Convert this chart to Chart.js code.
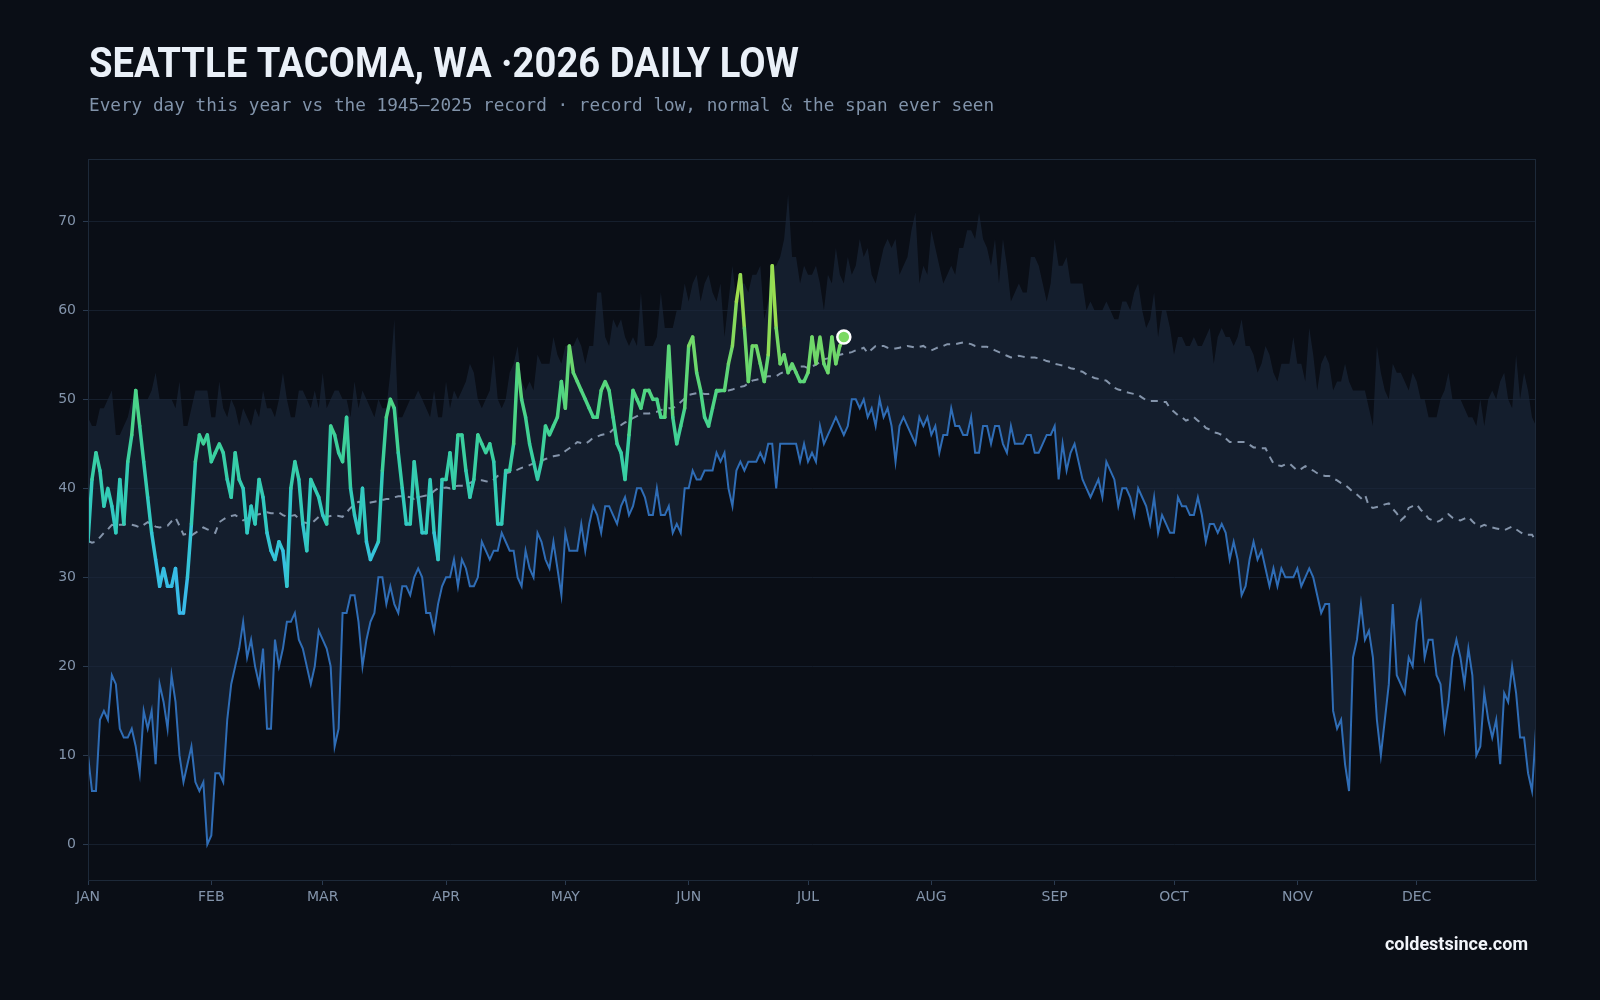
<!DOCTYPE html>
<html>
<head>
<meta charset="utf-8">
<script src="https://cdn.jsdelivr.net/npm/chart.js@4.4.1/dist/chart.umd.min.js"></script>
<style>
  html, body { margin: 0; padding: 0; background: #0a0e16; }
  #wrap { width: 1600px; height: 1000px; position: relative; }
  canvas { display: block; }
</style>
</head>
<body>
<div id="wrap"><canvas id="c" width="1600" height="1000"></canvas></div>
<script>
// ---------- DATA ----------
const MONTHS = ['JAN','FEB','MAR','APR','MAY','JUN','JUL','AUG','SEP','OCT','NOV','DEC'];
const MONTH_START = [0,31,59,90,120,151,181,212,243,273,304,334];
const Y_TICKS = [0,10,20,30,40,50,60,70];

// record (lowest) daily low, 1945-2025
const recordLow = [
  10,6,6,14,15,14,19,18,13,12,
  12,13,11,8,15,13,15,9,18,16,
  13,19,16,10,7,9,11,7,6,7,
  0,1,8,8,7,14,18,20,22,25,
  21,23,20,18,22,13,13,23,20,22,
  25,25,26,23,22,20,18,20,24,23,
  22,20,11,13,26,26,28,28,25,20,
  23,25,26,30,30,27,29,27,26,29,
  29,28,30,31,30,26,26,24,27,29,
  30,30,32,29,32,31,29,29,30,34,
  33,32,33,33,35,34,33,33,30,29,
  33,31,30,35,34,32,31,34,31,28,
  35,33,33,33,36,33,36,38,37,35,
  38,38,37,36,38,39,37,38,40,40,
  39,37,37,40,37,37,38,35,36,35,
  40,40,42,41,41,42,42,42,44,43,
  44,40,38,42,43,42,43,43,43,44,
  43,45,45,40,45,45,45,45,45,43,
  45,43,44,43,47,45,46,47,48,47,
  46,47,50,50,49,50,48,49,47,50,
  48,49,47,43,47,48,47,46,45,48,
  47,48,46,47,44,46,46,49,47,47,
  46,46,48,44,44,47,47,45,47,47,
  45,44,47,45,45,45,46,46,44,44,
  45,46,46,47,41,45,42,44,45,43,
  41,40,39,40,41,39,43,42,41,38,
  40,40,39,37,40,39,38,36,39,35,
  37,36,35,35,39,38,38,37,37,39,
  37,34,36,36,35,36,35,32,34,32,
  28,29,32,34,32,33,31,29,31,29,
  31,30,30,30,31,29,30,31,30,28,
  26,27,27,15,13,14,9,6,21,23,
  27,23,24,21,14,10,14,18,27,19,
  18,17,21,20,25,27,21,23,23,19,
  18,13,16,21,23,21,18,22,19,10,
  11,17,14,12,14,9,17,16,20,17,
  12,12,8,6,13
];

// highest daily low ever seen (top of the span)
const spanHigh = [
  48,47,47,49,49,50,51,46,46,47,
  48,50,50,50,50,50,51,53,50,50,
  50,50,49,52,47,47,49,51,51,51,
  51,48,48,52,49,48,50,49,47,49,
  48,47,49,48,51,49,49,48,50,53,
  50,48,48,51,51,50,49,51,49,53,
  49,50,51,51,50,50,48,52,49,51,
  50,49,48,50,49,49,53,59,48,48,
  49,50,50,51,50,49,48,51,48,48,
  52,49,51,50,51,52,54,53,50,49,
  50,51,55,50,49,50,53,54,56,52,
  51,52,51,55,54,54,54,57,55,54,
  56,56,56,57,56,54,56,56,62,62,
  57,56,59,58,59,57,56,57,56,62,
  56,56,56,57,62,58,58,58,60,60,
  63,61,63,64,61,63,64,62,61,63,
  57,61,65,61,63,63,62,64,64,65,
  59,61,65,65,66,68,73,66,66,63,
  65,64,64,65,63,60,64,63,67,64,
  63,66,64,65,68,66,67,64,63,65,
  67,68,67,68,64,65,66,69,71,63,
  65,64,69,67,65,63,64,65,64,67,
  67,69,69,68,71,68,67,65,68,63,
  68,65,61,62,63,62,62,66,66,65,
  63,61,63,68,65,65,66,63,63,63,
  63,60,61,60,60,60,61,60,59,59,
  61,61,60,62,63,60,58,59,62,57,
  60,60,58,55,57,57,56,56,57,56,
  56,57,58,54,57,58,57,57,56,57,
  59,56,56,55,53,54,56,55,53,52,
  54,54,54,57,54,54,52,58,55,51,
  54,55,54,51,52,52,54,52,51,51,
  51,51,49,47,56,53,51,50,54,53,
  53,52,51,53,52,50,50,48,48,48,
  50,51,53,50,50,50,49,48,48,47,
  50,47,50,51,50,52,53,50,49,55,
  50,53,51,48,47
];

// normal daily low
const normalLow = [
  34.1,33.9,34.0,34.5,35.0,35.4,35.9,35.8,35.9,35.9,
  36.0,35.9,35.8,35.6,35.9,36.2,36.0,35.7,35.6,35.7,
  35.8,36.3,36.7,35.8,34.8,34.9,34.7,35.0,35.3,35.6,
  35.4,35.2,35.0,36.2,36.5,36.8,36.9,37.0,36.7,36.4,
  36.6,36.8,37.0,37.1,37.2,37.3,37.2,37.2,37.3,37.0,
  36.8,36.9,37.0,36.6,36.2,36.1,36.0,36.4,36.8,36.8,
  36.8,36.9,37.0,36.9,36.8,37.3,37.8,38.2,38.5,38.4,
  38.3,38.4,38.5,38.6,38.7,38.8,38.8,39.0,39.1,39.1,
  39.1,39.0,38.8,39.0,39.1,39.2,39.3,39.7,40.0,40.0,
  40.1,40.0,40.2,40.3,40.3,40.4,40.6,40.8,40.9,40.9,
  40.8,40.7,41.0,41.4,41.5,41.7,41.8,42.0,42.1,42.3,
  42.4,42.6,42.8,43.0,43.1,43.3,43.4,43.6,43.7,43.8,
  44.2,44.5,44.8,45.2,45.1,45.0,45.3,45.7,45.8,46.0,
  46.1,46.2,46.6,47.0,47.1,47.4,47.6,47.9,48.1,48.4,
  48.4,48.4,48.5,48.6,48.8,48.9,49.0,49.0,49.3,49.7,
  50.1,50.5,50.6,50.7,50.7,50.6,50.6,50.7,50.8,50.9,
  51.0,51.0,51.1,51.3,51.4,51.5,51.8,52.1,52.2,52.3,
  52.5,52.6,52.6,52.6,52.9,53.1,53.2,53.4,53.5,53.7,
  53.7,53.5,53.7,53.9,54.2,54.5,54.6,54.7,54.9,55.0,
  55.1,55.2,55.3,55.5,55.6,55.8,55.2,55.6,56.0,56.0,
  56.0,55.8,55.7,55.7,55.8,55.9,56.0,55.9,55.8,55.9,
  56.0,55.7,55.5,55.7,55.9,56.0,56.2,56.2,56.2,56.3,
  56.4,56.3,56.2,56.0,55.9,55.9,55.9,55.7,55.5,55.3,
  55.1,54.9,54.7,54.8,54.9,54.8,54.7,54.7,54.7,54.6,
  54.5,54.3,54.2,54.0,53.9,53.8,53.7,53.5,53.4,53.2,
  53.1,52.8,52.6,52.4,52.3,52.2,52.1,51.7,51.3,51.1,
  51.0,50.8,50.7,50.6,50.5,50.2,49.9,49.8,49.8,49.8,
  49.7,49.7,49.0,48.6,48.2,48.0,47.6,47.8,48.0,47.6,
  47.3,46.8,46.6,46.3,46.2,46.0,45.6,45.2,45.2,45.2,
  45.2,45.2,44.9,44.6,44.6,44.5,44.5,43.6,42.8,42.6,
  42.5,42.7,42.8,42.4,42.0,42.2,42.5,42.2,42.0,41.7,
  41.5,41.4,41.4,41.1,40.9,40.6,40.4,40.0,39.6,39.3,
  38.9,39.3,38.0,37.8,37.9,38.0,38.2,38.3,37.7,37.2,
  36.4,36.8,37.8,38.0,38.2,37.6,37.2,36.6,36.4,36.2,
  36.4,36.8,37.1,36.7,36.5,36.4,36.6,36.8,36.3,35.9,
  35.7,35.9,35.7,35.6,35.5,35.4,35.3,35.5,35.7,35.4,
  35.1,34.8,34.8,34.8,34.0
];

// 2026 daily low so far
const daily2026 = [
  34,41,44,42,38,40,38,35,41,36,
  43,46,51,47,43,39,35,32,29,31,
  29,29,31,26,26,30,36,43,46,45,
  46,43,44,45,44,41,39,44,41,40,
  35,38,36,41,39,35,33,32,34,33,
  29,40,43,41,36,33,41,40,39,37,
  36,47,46,44,43,48,40,37,35,40,
  34,32,33,34,42,48,50,49,44,40,
  36,36,43,39,35,35,41,35,32,41,
  41,44,40,46,46,42,39,41,46,45,
  44,45,43,36,36,42,42,45,54,50,
  48,45,43,41,43,47,46,47,48,52,
  49,56,53,52,51,50,49,48,48,51,
  52,51,48,45,44,41,46,51,50,49,
  51,51,50,50,48,48,56,48,45,47,
  49,56,57,53,51,48,47,49,51,51,
  51,54,56,61,64,58,52,56,56,54,
  52,55,65,58,54,55,53,54,53,52,
  52,53,57,54,57,54,53,57,54,56,
  57
];

// ---------- helpers ----------
const toXY = arr => arr.map((v, i) => ({ x: i, y: v }));

const COLOR_STOPS = [
  [26, [58,183,238]],
  [32, [54,195,222]],
  [38, [50,203,187]],
  [44, [58,207,160]],
  [50, [78,213,132]],
  [56, [116,216,102]],
  [64, [170,223,72]]
];
function colorFor(v) {
  if (v <= COLOR_STOPS[0][0]) return 'rgb(' + COLOR_STOPS[0][1].join(',') + ')';
  for (let i = 1; i < COLOR_STOPS.length; i++) {
    const [v1, c1] = COLOR_STOPS[i];
    const [v0, c0] = COLOR_STOPS[i - 1];
    if (v <= v1) {
      const t = (v - v0) / (v1 - v0);
      const c = c0.map((a, k) => Math.round(a + (c1[k] - a) * t));
      return 'rgb(' + c.join(',') + ')';
    }
  }
  return 'rgb(' + COLOR_STOPS[COLOR_STOPS.length - 1][1].join(',') + ')';
}

const BG = '#0a0e16';
const lastIdx = daily2026.length - 1;

const decorPlugin = {
  id: 'decor',
  beforeDraw(chart) {
    const ctx = chart.ctx;
    ctx.save();
    ctx.fillStyle = BG;
    ctx.fillRect(0, 0, chart.width, chart.height);
    ctx.restore();
  },
  afterDraw(chart) {
    const ctx = chart.ctx;
    const a = chart.chartArea;
    ctx.save();
    // plot frame
    ctx.strokeStyle = '#1d2939';
    ctx.lineWidth = 1;
    ctx.strokeRect(Math.round(a.left) + 0.5, Math.round(a.top) + 0.5,
                   Math.round(a.right - a.left) - 1, Math.round(a.bottom - a.top));
    // title
    const title = 'SEATTLE TACOMA, WA \u00b72026 DAILY LOW';
    ctx.font = 'bold 42px Roboto, "Noto Sans", sans-serif';
    ctx.fillStyle = '#eaf0f8';
    ctx.textBaseline = 'alphabetic';
    ctx.textAlign = 'left';
    const tw = ctx.measureText(title).width;
    const sx = Math.min(1, 710 / tw);
    ctx.save();
    ctx.translate(89, 77);
    ctx.scale(sx, 1);
    ctx.fillText(title, 0, 0);
    ctx.restore();
    // subtitle
    ctx.font = '17.7px "DejaVu Sans Mono", monospace';
    ctx.fillStyle = '#8193aa';
    ctx.fillText('Every day this year vs the 1945\u20132025 record \u00b7 record low, normal & the span ever seen', 89, 111);
    // footer
    ctx.font = 'bold 18px Roboto, "Noto Sans", sans-serif';
    ctx.fillStyle = '#f2f5fa';
    ctx.textAlign = 'right';
    ctx.fillText('coldestsince.com', 1528, 950);
    ctx.restore();
  }
};

const TICK_COLOR = '#8394ab';

new Chart(document.getElementById('c'), {
  type: 'line',
  data: {
    datasets: [
      {
        label: 'Span ever seen',
        data: toXY(spanHigh),
        borderWidth: 0,
        borderColor: 'rgba(0,0,0,0)',
        pointRadius: 0,
        fill: 1,
        backgroundColor: 'rgba(28,41,60,0.62)',
        order: 3
      },
      {
        label: 'Record low',
        data: toXY(recordLow),
        borderColor: '#2f6db6',
        borderWidth: 2,
        pointRadius: 0,
        fill: false,
        order: 2
      },
      {
        label: 'Normal',
        data: toXY(normalLow),
        borderColor: '#8494aa',
        borderWidth: 2,
        borderDash: [7, 6],
        pointRadius: 0,
        fill: false,
        order: 1
      },
      {
        label: '2026',
        data: toXY(daily2026),
        borderWidth: 3.5,
        borderCapStyle: 'round',
        borderJoinStyle: 'round',
        borderColor: colorFor(45),
        segment: {
          borderColor: c => colorFor((c.p0.parsed.y + c.p1.parsed.y) / 2)
        },
        pointRadius: c => (c.dataIndex === lastIdx ? 6.5 : 0),
        pointBackgroundColor: colorFor(daily2026[lastIdx]),
        pointBorderColor: '#ffffff',
        pointBorderWidth: 2.5,
        pointHoverRadius: 0,
        fill: false,
        order: 0
      }
    ]
  },
  plugins: [decorPlugin],
  options: {
    responsive: false,
    animation: false,
    parsing: true,
    layout: { padding: { top: 159, right: 64, left: 0, bottom: 0 } },
    plugins: {
      legend: { display: false },
      tooltip: { enabled: false },
      title: { display: false }
    },
    elements: { line: { tension: 0 } },
    scales: {
      x: {
        type: 'linear',
        min: 0,
        max: 364,
        afterFit: s => { s.height = 120; },
        afterBuildTicks: s => { s.ticks = MONTH_START.map(v => ({ value: v })); },
        ticks: {
          autoSkip: false,
          maxRotation: 0,
          padding: 4,
          color: TICK_COLOR,
          font: { family: '"DejaVu Sans", sans-serif', size: 14 },
          callback: (v, i) => MONTHS[i]
        },
        grid: { drawOnChartArea: false, drawTicks: true, tickLength: 5, color: '#2a3a4f' },
        border: { display: true, color: '#1d2939' }
      },
      y: {
        type: 'linear',
        min: -4,
        max: 77,
        afterFit: s => { s.width = 88; },
        afterBuildTicks: s => { s.ticks = Y_TICKS.map(v => ({ value: v })); },
        ticks: {
          padding: 7,
          color: TICK_COLOR,
          font: { family: '"DejaVu Sans", sans-serif', size: 14 },
          callback: v => String(v)
        },
        grid: { color: '#161f2d', lineWidth: 1, tickLength: 5, tickColor: '#2a3a4f' },
        border: { display: true, color: '#1d2939' }
      }
    }
  }
});
</script>
</body>
</html>
